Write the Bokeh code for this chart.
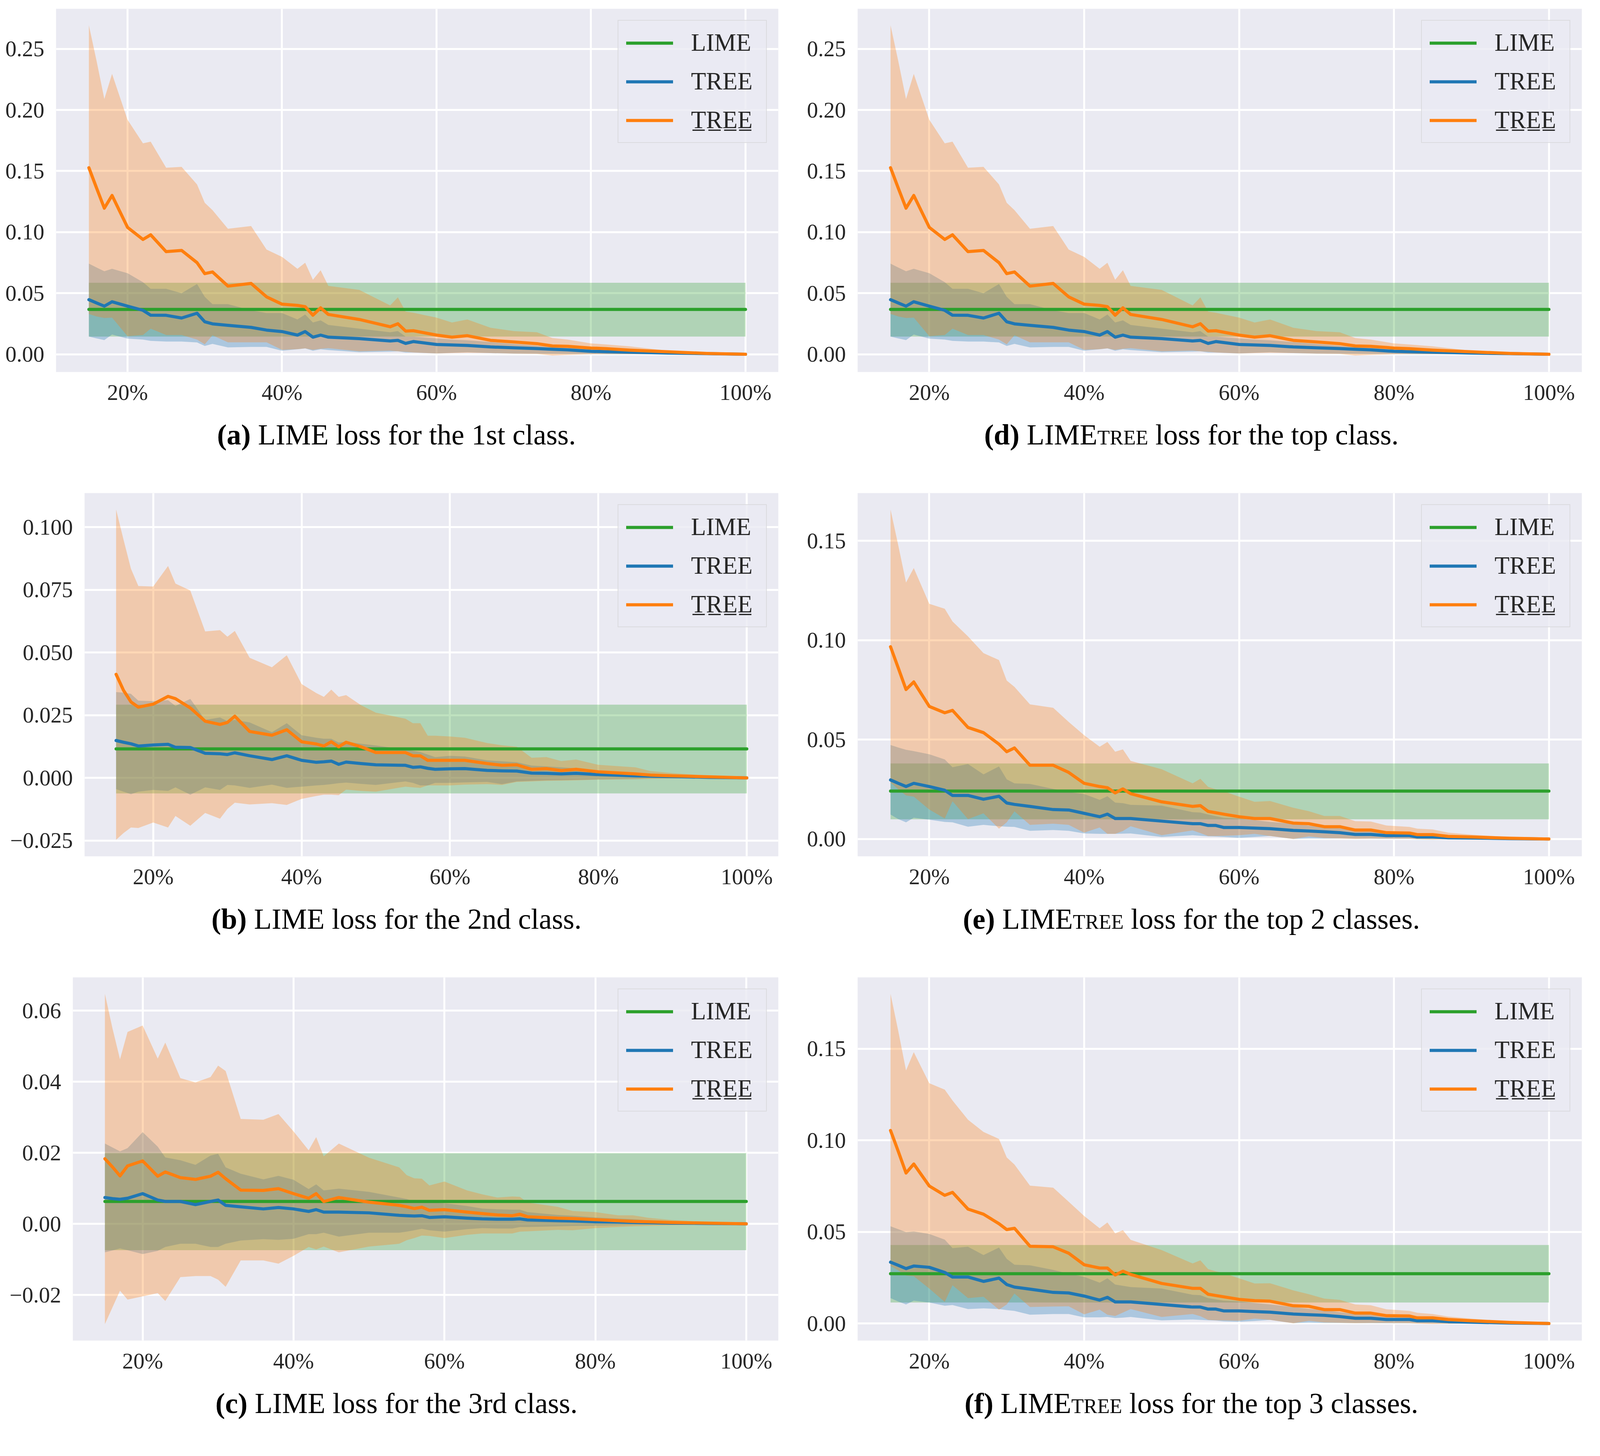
from bokeh.plotting import figure
from bokeh.models import Range1d, FixedTicker, Legend, LegendItem, CustomJSTickFormatter, Div
from bokeh.layouts import column, row
from bokeh.embed import file_html
from bokeh.resources import INLINE

FONT = "Liberation Serif"
GREEN, BLUE, ORANGE = "#2ca02c", "#1f77b4", "#ff7f0e"
BG = "#EAEAF2"
TXT = "#262626"

# ---------------- data (percent of features kept, loss values) ----------------
PCT_TICKS = [20, 40, 60, 80, 100]
PCT_LABELS = ["20%", "40%", "60%", "80%", "100%"]
LEGEND_LABELS = ["LIME", "TREE", "T\u0332R\u0332E\u0332E\u0332"]

# panel (a) and (d): LIME / LIMEtree loss for the 1st (top) class
x_a = [15, 16, 17, 18, 20, 22, 23, 25, 27, 29, 30, 31, 33, 36, 38, 40, 42, 43, 44, 45, 46,
       50, 54, 55, 56, 57, 60, 62, 64, 67, 70, 73, 75, 77, 80, 82, 85, 90, 95, 100]
a_tree_u_mean = [.1527, .136, .1196, .130, .1039, .094, .0978, .084, .085, .075,
                 .066, .0674, .0558, .058, .047, .041, .040, .039, .032, .038, .0326,
                 .0285, .0225, .025, .019, .0193, .0157, .014, .0152, .0114,
                 .0101, .0087, .0068, .0065, .0051, .0046, .0034, .002, .0007, 0]
a_tree_u_hi = [.2693, .24, .209, .2295, .192, .1727, .174, .1527, .1534, .139,
               .124, .118, .1027, .105, .0857, .0797, .070, .0749, .061, .0688, .056,
               .0527, .040, .0466, .035, .034, .030, .026, .0285, .0217,
               .019, .018, .0133, .012, .0089, .008, .0065, .0029, .0012, 0]
a_tree_u_lo = [.033, .031, .0297, .030, .0148, .0158, .021, .0158, .0158, .012,
               .0082, .0155, .0098, .0098, .0098, .0036, .0042, .0048, .0036, .0045, .005,
               .0024, .003, .0024, .002, .0015, .0007, .001, .0012, .001,
               .0005, .0003, -.001, -.0005, 0.0, 0.0, 0.0, .0002, .0002, 0]
a_tree_mean = [.0447, .042, .0394, .043, .0394, .036, .032, .0319, .0297, .0336,
               .0266, .0249, .0237, .022, .0198, .0186, .0157, .0186, .014, .0157, .014,
               .0128, .0109, .0114, .0089, .0104, .008, .0076, .0072, .006,
               .0053, .0047, .0041, .0036, .0024, .0021, .0017, .001, .0005, 0]
a_tree_hi = [.0742, .071, .068, .070, .0664, .059, .0536, .0536, .050, .0575,
             .047, .041, .041, .036, .0338, .0338, .0285, .0326, .026, .0278, .024,
             .021, .018, .019, .0145, .0145, .013, .012, .0115, .010,
             .0085, .007, .006, .0052, .0041, .0036, .0029, .0017, .0007, 0]
a_tree_lo = [.0145, .013, .0116, .0162, .0128, .012, .011, .0104, .0104, .0097,
             .0068, .0085, .0056, .006, .006, .0029, .0041, .0048, .0029, .0041, .0035,
             .0017, .0022, .0024, .0015, .0015, .0007, .0012, .0017, .001,
             .0005, .0004, .0003, .0002, .0002, .0001, .0001, .0001, 0.0, 0]
a_lime = [0.0145, 0.0367, 0.0585]  # lo, mean, hi

# panel (b): 2nd class
x_b = [15, 16, 17, 18, 20, 22, 23, 25, 27, 29, 30, 31, 33, 36, 38, 40, 42, 43, 44, 45, 46, 48,
       50, 54, 55, 56, 57, 58, 60, 62, 65, 67, 69, 71, 73, 75, 77, 80, 85, 87, 90, 95, 100]
b_tree_u_mean = [.0413, .0349, .0303, .0282, .0294, .0325, .0316, .0279, .0226, .0213,
                 .0221, .0246, .0185, .017, .0192, .0144, .0135, .0127, .0144, .0124, .0142, .0124,
                 .0101, .0101, .0088, .0088, .007, .007, .007, .007, .0057, .005, .0052,
                 .0034, .0037, .0029, .0034, .0024, .0016, .0011, .0008, .0004, 0]
b_tree_u_hi = [.107, .095, .0834, .0765, .0763, .0845, .0775, .0747, .0584, .0589,
               .0563, .0586, .0479, .0441, .0489, .0374, .0338, .0323, .0352, .0323, .033, .029,
               .026, .0236, .0218, .0218, .0168, .0168, .0165, .016, .0139, .013, .0124,
               .008, .0083, .0067, .0073, .0052, .0042, .0027, .0019, .0009, 0]
b_tree_u_lo = [-.0247, -.022, -.0198, -.020, -.0178, -.0198, -.0152, -.0191, -.014, -.0163,
               -.0124, -.0099, -.0106, -.0101, -.0108, -.0084, -.0072, -.0067, -.0067, -.0069, -.0047, -.0052,
               -.0055, -.0035, -.0038, -.004, -.003, -.003, -.003, -.0027, -.0025, -.0028, -.0016,
               -.0014, -.0012, -.0011, -.001, -.0007, -.0006, -.0004, -.0003, -.0001, 0]
b_tree_mean = [.0149, .0142, .0136, .0127, .0131, .0134, .0122, .0121, .0098, .0096,
               .0093, .010, .0088, .0073, .0088, .007, .0062, .0064, .0067, .0054, .0063, .0057,
               .0052, .005, .0042, .0044, .0038, .0034, .0036, .0037, .003, .0028, .0027,
               .0019, .0018, .0016, .0018, .0013, .0008, .0007, .0005, .0002, 0]
b_tree_hi = [.0342, .034, .0335, .0308, .0306, .031, .0287, .0315, .0231, .0241,
             .0226, .0231, .0221, .0182, .0218, .017, .016, .0156, .0156, .0141, .0144, .0136,
             .0129, .0113, .0108, .0103, .0093, .0083, .0088, .0085, .007, .0066, .0062,
             .0049, .0046, .0042, .0038, .0027, .0021, .0017, .0011, .0005, 0]
b_tree_lo = [-.0045, -.0055, -.0065, -.0055, -.0048, -.0052, -.0038, -.0067, -.0038, -.0048,
             -.0028, -.003, -.004, -.0027, -.004, -.0035, -.003, -.0028, -.0025, -.0021, -.0019, -.0024,
             -.0028, -.0014, -.002, -.003, -.003, -.002, -.002, -.0018, -.0016, -.0025, -.0014,
             -.0012, -.001, -.0009, -.0008, -.0006, -.0004, -.0003, -.0002, -.0001, 0]
b_lime = [-0.0062, 0.01155, 0.0292]

# panel (c): 3rd class
x_c = [15, 16, 17, 18, 20, 22, 23, 25, 27, 29, 30, 31, 33, 36, 38, 40, 42, 43, 44, 46,
       50, 54, 55, 56, 57, 58, 60, 63, 65, 67, 69, 70, 71, 75, 77, 80, 83, 85, 87, 90, 95, 100]
c_tree_u_mean = [.0183, .016, .0135, .0163, .0177, .0134, .0146, .013, .0125, .0134,
                 .0145, .0127, .0095, .0094, .0099, .0085, .0072, .0085, .0063, .0074,
                 .0061, .0052, .0048, .0043, .0047, .0038, .004, .0033, .0029, .0025, .0023,
                 .0027, .002, .0016, .0015, .0012, .0009, .0007, .0006, .0004, .0002, 0]
c_tree_u_hi = [.0647, .055, .0463, .054, .0558, .0465, .051, .041, .0398, .0413,
               .0445, .043, .0295, .0293, .0309, .026, .0207, .0244, .019, .0226,
               .0186, .0159, .0137, .0128, .0127, .0108, .0119, .0094, .0083, .0074, .0077,
               .0076, .006, .0048, .0036, .0033, .0024, .0024, .0017, .0011, .0005, 0]
c_tree_u_lo = [-.0282, -.0235, -.0188, -.0213, -.0204, -.0195, -.0217, -.015, -.0147, -.0147,
               -.0157, -.0177, -.0103, -.0103, -.0112, -.009, -.0065, -.0072, -.0064, -.008,
               -.0064, -.0056, -.0046, -.004, -.0033, -.0034, -.004, -.0031, -.0027, -.0027, -.0027,
               -.0022, -.0021, -.0017, -.0018, -.0012, -.0009, -.0007, -.0006, -.0004, -.0002, 0]
c_tree_mean = [.0074, .0071, .0069, .0072, .0085, .0067, .0063, .0063, .0054, .0063,
               .0067, .0052, .0048, .0042, .0046, .0042, .0035, .004, .0033, .0033,
               .0031, .0024, .0023, .0022, .0023, .0018, .002, .0016, .0014, .0013, .0013,
               .0014, .0011, .0009, .0008, .0006, .0005, .0004, .0003, .0002, .0001, 0]
c_tree_hi = [.0226, .0215, .0204, .0213, .0258, .0217, .0187, .0179, .0166, .0192,
             .0197, .0159, .0141, .0125, .0135, .0124, .0098, .0111, .0094, .0099,
             .009, .0074, .007, .0063, .0062, .006, .0058, .005, .0043, .0041, .004,
             .004, .0033, .0025, .0023, .0018, .0015, .0013, .001, .0007, .0003, 0]
c_tree_lo = [-.008, -.0075, -.0069, -.0074, -.0085, -.0076, -.0065, -.0056, -.0056, -.0065,
             -.0065, -.0056, -.0047, -.0043, -.0045, -.0042, -.0029, -.0029, -.0025, -.0036,
             -.0025, -.0025, -.0022, -.0018, -.0014, -.0018, -.0022, -.0015, -.0012, -.0013, -.0013,
             -.0009, -.0009, -.0007, -.0006, -.0005, -.0004, -.0003, -.0002, -.0002, -.0001, 0]
c_lime = [-0.0074, 0.0063, 0.0199]

# panels (e) and (f): top 2 / top 3 classes
x_ef = [15, 16, 17, 18, 20, 22, 23, 25, 27, 29, 30, 31, 33, 36, 38, 40, 42, 43, 44, 45, 46,
        50, 54, 55, 56, 57, 58, 60, 62, 64, 67, 69, 71, 73, 75, 77, 79, 82, 83, 85, 87, 90, 95, 100]
e_tree_u_mean = [.0967, .086, .0752, .079, .0667, .0635, .0647, .0561, .0535, .0477,
                 .0439, .0458, .0371, .0371, .0335, .028, .0264, .0258, .0232, .0252, .0228,
                 .0187, .0164, .0168, .0139, .0132, .0125, .0112, .0103, .0103, .008, .0077,
                 .0062, .0062, .0045, .0045, .0032, .003, .0022, .0022, .0013, .001, .0004, 0]
e_tree_u_hi = [.1657, .1477, .129, .1363, .1183, .1158, .1094, .1019, .0935, .09,
               .0797, .0765, .0677, .066, .0589, .0522, .0464, .0488, .0439, .0451, .0393,
               .0351, .028, .0303, .0262, .025, .024, .0213, .0187, .0191, .0157, .014,
               .0116, .0116, .009, .0088, .0068, .0061, .0052, .0048, .0032, .0022, .0009, 0]
e_tree_u_lo = [.0284, .025, .0219, .0213, .0148, .0103, .019, .010, .0129, .0052,
               .0084, .0139, .0071, .0077, .0071, .0032, .0058, .0026, .0026, .004, .0064,
               .0019, .0043, .003, .0015, .0015, .0016, .0019, .0026, .0015, 0.0, .0013,
               .0005, .0003, 0.0, .0002, .0002, .0001, -.0002, -.0004, -.0001, .0001, 0.0, 0]
e_tree_mean = [.0297, .028, .0264, .028, .0264, .0245, .0219, .0219, .020, .0215,
               .0181, .0174, .0164, .0148, .0146, .0129, .0112, .0125, .0103, .0103, .0103,
               .009, .0077, .0077, .0068, .0068, .0058, .0058, .0055, .0052, .0043, .004,
               .0036, .0032, .0023, .0023, .0017, .0017, .001, .001, .0006, .0005, .0002, 0]
e_tree_hi = [.0473, .046, .0449, .0442, .0426, .040, .0361, .0377, .0325, .0365,
             .030, .028, .0277, .0252, .0236, .0226, .0197, .0215, .0183, .018, .0172,
             .0168, .0135, .0133, .0123, .0115, .0107, .0103, .0095, .0086, .0077, .0067,
             .0062, .0054, .0043, .004, .0034, .003, .0025, .0019, .0016, .0012, .0005, 0]
e_tree_lo = [.0123, .010, .0084, .0107, .0097, .0086, .0084, .0062, .0071, .0064,
             .0062, .0061, .0041, .0045, .0041, .0028, .0026, .0026, .0026, .0027, .0028,
             .001, .0019, .0016, .0013, .0012, .001, .0006, .001, .0015, 0.0, .0003,
             .0002, .0003, .0002, .0002, .0001, .0001, .0001, 0.0, 0.0, 0.0, 0.0, 0]
e_lime = [0.0099, 0.0241, 0.038]

f_tree_u_mean = [.1054, .094, .0822, .0871, .0751, .070, .0716, .0625, .0597, .0545,
                 .0513, .052, .0422, .0419, .0384, .0321, .0303, .0303, .0265, .0286, .0268,
                 .0219, .0192, .0192, .016, .0153, .0146, .0132, .0125, .0122, .0097, .0094,
                 .0076, .0076, .0057, .0057, .0043, .0041, .0031, .0031, .0022, .0015, .0006, 0]
f_tree_u_hi = [.18, .1597, .1382, .1482, .1312, .1277, .1218, .1113, .1046, .1008,
               .0907, .0868, .0753, .0742, .0665, .0587, .052, .0552, .0492, .051, .0457,
               .0401, .0328, .0345, .0297, .0285, .0275, .0247, .0219, .022, .0181, .016,
               .0136, .0129, .0104, .010, .0078, .0069, .0059, .0052, .0038, .0027, .0011, 0]
f_tree_u_lo = [.0314, .029, .0262, .0258, .0191, .0118, .0209, .0139, .0146, .0076,
               .0104, .0164, .009, .0093, .0094, .005, .0076, .0048, .0041, .006, .0079,
               .0036, .0052, .004, .002, .0018, .0017, .0015, .0027, .002, .0001, .0015,
               .0006, .0004, .0002, .0003, .0003, .0002, -.0001, -.0003, -.0002, .0001, 0.0, 0]
f_tree_mean = [.0335, .0318, .030, .0314, .0307, .0279, .0254, .0254, .023, .0248,
               .0213, .0199, .0188, .017, .0167, .015, .0128, .0143, .0118, .0118, .0118,
               .0104, .009, .009, .0079, .0079, .0069, .0069, .0065, .0062, .0052, .0048,
               .0045, .0038, .0029, .0029, .0022, .0022, .0015, .0015, .001, .0007, .0003, 0]
f_tree_hi = [.0531, .0515, .0499, .0503, .0489, .0458, .0412, .0419, .0374, .0415,
             .0353, .0321, .0318, .0293, .0272, .0255, .0223, .0247, .0213, .0206, .0199,
             .0191, .0157, .0155, .0139, .0132, .0125, .0121, .0112, .0104, .009, .008,
             .0073, .0062, .0052, .0048, .0043, .0037, .0031, .0022, .0019, .0013, .0006, 0]
f_tree_lo = [.0139, .012, .0104, .0125, .0115, .0097, .0101, .0079, .0083, .0079,
             .0073, .0069, .0048, .0052, .0052, .0034, .0034, .0036, .003, .0032, .0036,
             .0017, .0022, .002, .0018, .0016, .0012, .001, .0014, .002, .0002, .0005,
             .0003, .0003, .0002, .0002, .0001, .0001, .0001, 0.0, 0.0, 0.0, 0.0, 0]
f_lime = [0.0115, 0.0272, 0.0429]

# y tick values and labels
yt_a = [0.00, 0.05, 0.10, 0.15, 0.20, 0.25]
yl_a = ["0.00", "0.05", "0.10", "0.15", "0.20", "0.25"]
yt_b = [-0.025, 0.000, 0.025, 0.050, 0.075, 0.100]
yl_b = ["\u22120.025", "0.000", "0.025", "0.050", "0.075", "0.100"]
yt_c = [-0.02, 0.00, 0.02, 0.04, 0.06]
yl_c = ["\u22120.02", "0.00", "0.02", "0.04", "0.06"]
yt_ef = [0.00, 0.05, 0.10, 0.15]
yl_ef = ["0.00", "0.05", "0.10", "0.15"]

# captions: bold label, main word, small-caps suffix (or ""), rest of the sentence
captions = {
    "a": ("(a)", "LIME", "", "loss for the 1st class."),
    "b": ("(b)", "LIME", "", "loss for the 2nd class."),
    "c": ("(c)", "LIME", "", "loss for the 3rd class."),
    "d": ("(d)", "LIME", "tree", "loss for the top class."),
    "e": ("(e)", "LIME", "tree", "loss for the top 2 classes."),
    "f": ("(f)", "LIME", "tree", "loss for the top 3 classes."),
}

# ---------------- layout ----------------
W = {"left": 2030, "right": 2040}
RIGHT = {"left": 38, "right": 21}
TOP = 22
FRAME_H = 930
AXIS_H = 110
PLOT_H = TOP + FRAME_H + AXIS_H
CAP_H = [178, 178, 118]
CAP_SIZE = 74
CAP_MARGIN_TOP = 14


def tick_fmt(tvals, tlabels):
    return CustomJSTickFormatter(args=dict(tv=tvals, tl=tlabels), code="""
        for (let i = 0; i < tv.length; i++) {
            if (Math.abs(tv[i] - tick) < 1e-9) { return tl[i]; }
        }
        return "";
    """)


def caption_div(key, col, height):
    lab, word, sc, rest = captions[key]
    sc_html = f'<span style="font-variant: small-caps;">{sc}</span>' if sc else ""
    html = (f'<div style="width:{W[col]}px; text-align:center; '
            f'font-family:\'{FONT}\', serif; font-size:{CAP_SIZE}px; line-height:{CAP_SIZE}px; '
            f'margin-top:{CAP_MARGIN_TOP}px; color:#000000; white-space:nowrap;">'
            f'<b>{lab}</b> {word}{sc_html} {rest}</div>')
    return Div(text=html, width=W[col], height=height, margin=(0, 0, 0, 0))


def make_panel(key, x, um, uhi, ulo, tm, thi, tlo, lime, yt, yl, left, col, cap_h):
    width = W[col]
    right = RIGHT[col]
    allv = ulo + uhi + tlo + thi + [lime[0], lime[2]]
    ymin, ymax = min(allv), max(allv)
    ypad = 0.05 * (ymax - ymin)
    xpad = 0.05 * (x[-1] - x[0])
    p = figure(width=width, height=PLOT_H,
               x_range=Range1d(x[0] - xpad, x[-1] + xpad),
               y_range=Range1d(ymin - ypad, ymax + ypad),
               output_backend="svg", toolbar_location=None,
               min_border_left=left, min_border_right=right,
               min_border_top=TOP, min_border_bottom=AXIS_H)
    p.background_fill_color = BG
    p.border_fill_color = "white"
    p.outline_line_color = None

    lx = [x[0], x[-1]]
    p.varea(x=lx, y1=[lime[0]] * 2, y2=[lime[2]] * 2, fill_color=GREEN, fill_alpha=0.3)
    p.varea(x=x, y1=tlo, y2=thi, fill_color=BLUE, fill_alpha=0.3)
    p.varea(x=x, y1=ulo, y2=uhi, fill_color=ORANGE, fill_alpha=0.3)
    rg = p.line(lx, [lime[1]] * 2, line_color=GREEN, line_width=8, line_cap="round")
    rb = p.line(x, tm, line_color=BLUE, line_width=8, line_join="round", line_cap="round")
    ro = p.line(x, um, line_color=ORANGE, line_width=8, line_join="round", line_cap="round")

    leg = Legend(items=[LegendItem(label=LEGEND_LABELS[0], renderers=[rg]),
                        LegendItem(label=LEGEND_LABELS[1], renderers=[rb]),
                        LegendItem(label=LEGEND_LABELS[2], renderers=[ro])],
                 location="top_right", margin=29, padding=20, spacing=26,
                 glyph_width=120, glyph_height=60, label_height=60, label_width=172,
                 label_standoff=46, label_text_font=FONT, label_text_font_size="63px",
                 label_text_color=TXT, background_fill_color=BG, background_fill_alpha=0.8,
                 border_line_color="#cccccc", border_line_width=2)
    p.add_layout(leg)

    p.xaxis.ticker = FixedTicker(ticks=PCT_TICKS)
    p.xaxis.formatter = tick_fmt(PCT_TICKS, PCT_LABELS)
    p.yaxis.ticker = FixedTicker(ticks=yt)
    p.yaxis.formatter = tick_fmt(yt, yl)
    for ax in (p.xaxis, p.yaxis):
        ax.axis_line_color = None
        ax.major_tick_line_color = None
        ax.minor_tick_line_color = None
        ax.major_label_text_font = FONT
        ax.major_label_text_font_size = "57px"
        ax.major_label_text_color = TXT
    p.xaxis.major_label_standoff = 14
    p.yaxis.major_label_standoff = 24
    p.grid.grid_line_color = "white"
    p.grid.grid_line_width = 5

    return column(p, caption_div(key, col, cap_h))


pa = make_panel("a", x_a, a_tree_u_mean, a_tree_u_hi, a_tree_u_lo, a_tree_mean, a_tree_hi, a_tree_lo,
                a_lime, yt_a, yl_a, 143, "left", CAP_H[0])
pd = make_panel("d", x_a, a_tree_u_mean, a_tree_u_hi, a_tree_u_lo, a_tree_mean, a_tree_hi, a_tree_lo,
                a_lime, yt_a, yl_a, 165, "right", CAP_H[0])
pb = make_panel("b", x_b, b_tree_u_mean, b_tree_u_hi, b_tree_u_lo, b_tree_mean, b_tree_hi, b_tree_lo,
                b_lime, yt_b, yl_b, 216, "left", CAP_H[1])
pe = make_panel("e", x_ef, e_tree_u_mean, e_tree_u_hi, e_tree_u_lo, e_tree_mean, e_tree_hi, e_tree_lo,
                e_lime, yt_ef, yl_ef, 165, "right", CAP_H[1])
pc = make_panel("c", x_c, c_tree_u_mean, c_tree_u_hi, c_tree_u_lo, c_tree_mean, c_tree_hi, c_tree_lo,
                c_lime, yt_c, yl_c, 186, "left", CAP_H[2])
pf = make_panel("f", x_ef, f_tree_u_mean, f_tree_u_hi, f_tree_u_lo, f_tree_mean, f_tree_hi, f_tree_lo,
                f_lime, yt_ef, yl_ef, 165, "right", CAP_H[2])

layout = column(row(pa, pd), row(pb, pe), row(pc, pf))
open("out.html", "w").write(file_html(layout, INLINE))
